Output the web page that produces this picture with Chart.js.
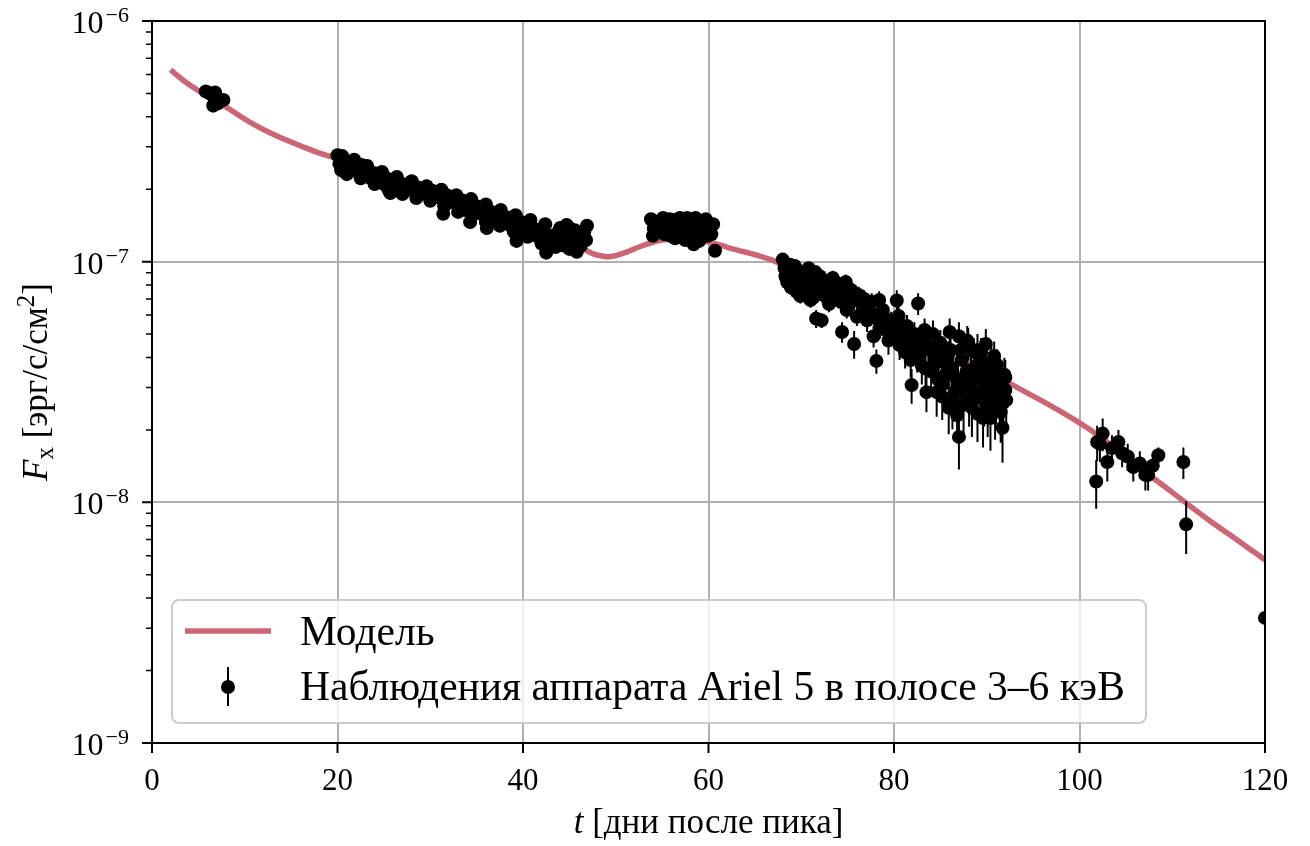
<!DOCTYPE html>
<html>
<head>
<meta charset="utf-8">
<script src="https://cdn.jsdelivr.net/npm/chart.js@4.4.1/dist/chart.umd.min.js"></script>
<style>
  body { margin: 0; background: #fff; }
</style>
</head>
<body>
<canvas id="canvas" width="1310" height="846"></canvas>
<script>
// model light curve
const modelT = [2, 3.5, 5, 6.5, 8, 10.5, 13, 16, 19, 22, 25, 28, 31, 34, 37, 40, 43, 45, 46.5, 47.5, 48.5, 49.5,
  51, 53, 55, 57, 59, 61, 63, 65, 67, 70, 74, 78, 82, 86, 90, 94, 98, 102, 106, 110, 114, 117, 120];
const modelF = [6.26e-7, 5.62e-7, 5.14e-7, 4.74e-7, 4.39e-7, 3.81e-7, 3.39e-7, 3.03e-7, 2.75e-7, 2.57e-7, 2.31e-7,
  2.10e-7, 1.91e-7, 1.74e-7, 1.58e-7, 1.44e-7, 1.30e-7, 1.21e-7, 1.13e-7, 1.08e-7, 1.055e-7, 1.05e-7,
  1.09e-7, 1.17e-7, 1.23e-7, 1.25e-7, 1.23e-7, 1.18e-7, 1.12e-7, 1.07e-7, 1.01e-7, 8.89e-8, 7.48e-8,
  6.24e-8, 5.20e-8, 4.30e-8, 3.51e-8, 2.90e-8, 2.38e-8, 1.90e-8, 1.44e-8, 1.10e-8, 8.4e-9, 6.98e-9, 5.76e-9];

// Ariel 5 points: [t, F, sigma]
const obsEarly = [
  [5.8, 5.1e-7, 1.5e-8], [6.25, 5.0e-7, 1.5e-8], [6.7, 4.8e-7, 1.5e-8], [6.6, 4.45e-7, 1.4e-8],
  [7.1, 4.55e-7, 1.4e-8], [7.7, 4.7e-7, 1.5e-8], [6.8, 5.05e-7, 1.5e-8]
];
const obsFirst = [
  [20.0, 2.77e-7, 6e-9], [20.2, 2.55e-7, 6e-9], [20.4, 2.40e-7, 6e-9], [20.5, 2.75e-7, 6e-9], [20.7, 2.65e-7, 6e-9],
  [21.0, 2.50e-7, 6e-9], [21.0, 2.31e-7, 6e-9], [21.3, 2.60e-7, 6e-9], [21.6, 2.40e-7, 6e-9], [21.8, 2.65e-7, 6e-9],
  [22.0, 2.47e-7, 6e-9], [22.3, 2.36e-7, 6e-9], [22.5, 2.22e-7, 6e-9], [22.6, 2.52e-7, 6e-9], [23.0, 2.29e-7, 5e-9],
  [23.2, 2.50e-7, 5e-9], [23.3, 2.40e-7, 5e-9], [23.6, 2.22e-7, 5e-9], [24.0, 2.33e-7, 5e-9], [24.0, 2.10e-7, 5e-9],
  [24.3, 2.18e-7, 5e-9], [24.6, 2.27e-7, 5e-9], [24.8, 2.36e-7, 5e-9], [25.0, 2.10e-7, 5e-9], [25.3, 2.22e-7, 5e-9],
  [25.5, 1.99e-7, 5e-9], [25.6, 2.14e-7, 5e-9], [25.7, 1.93e-7, 5e-9], [26.0, 2.06e-7, 5e-9], [26.3, 2.18e-7, 5e-9],
  [26.4, 2.25e-7, 5e-9], [26.7, 2.03e-7, 5e-9], [27.0, 2.10e-7, 5e-9], [27.0, 1.91e-7, 5e-9], [27.4, 1.99e-7, 5e-9],
  [27.8, 2.08e-7, 5e-9], [28.0, 2.16e-7, 5e-9], [28.2, 1.97e-7, 5e-9], [28.5, 1.84e-7, 5e-9], [28.6, 2.04e-7, 5e-9],
  [29.0, 1.93e-7, 5e-9], [29.4, 2.03e-7, 5e-9], [29.6, 2.06e-7, 5e-9], [29.8, 1.89e-7, 5e-9], [30.0, 1.79e-7, 5e-9],
  [30.2, 1.97e-7, 5e-9], [30.6, 1.86e-7, 5e-9], [31.0, 1.93e-7, 5e-9], [31.2, 1.99e-7, 5e-9], [31.4, 1.80e-7, 5e-9],
  [31.4, 1.58e-7, 5e-9], [31.5, 1.70e-7, 5e-9], [31.8, 1.89e-7, 5e-9], [32.2, 1.77e-7, 5e-9], [32.6, 1.84e-7, 5e-9],
  [32.8, 1.89e-7, 5e-9], [33.0, 1.72e-7, 5e-9], [33.0, 1.61e-7, 5e-9], [33.4, 1.80e-7, 5e-9], [33.8, 1.64e-7, 5e-9],
  [34.2, 1.73e-7, 5e-9], [34.3, 1.46e-7, 5e-9], [34.4, 1.82e-7, 5e-9], [34.5, 1.55e-7, 5e-9], [34.6, 1.62e-7, 5e-9],
  [35.0, 1.70e-7, 5e-9], [35.4, 1.59e-7, 5e-9], [35.8, 1.67e-7, 5e-9], [36.0, 1.73e-7, 5e-9], [36.0, 1.46e-7, 5e-9],
  [36.1, 1.38e-7, 5e-9], [36.2, 1.55e-7, 5e-9], [36.6, 1.61e-7, 5e-9], [37.0, 1.50e-7, 5e-9], [37.4, 1.58e-7, 5e-9],
  [37.5, 1.41e-7, 5e-9], [37.6, 1.64e-7, 5e-9], [37.8, 1.46e-7, 5e-9], [38.2, 1.53e-7, 5e-9], [38.6, 1.42e-7, 5e-9],
  [39.0, 1.49e-7, 5e-9], [39.0, 1.33e-7, 5e-9], [39.2, 1.56e-7, 5e-9], [39.3, 1.22e-7, 5e-9], [39.4, 1.38e-7, 5e-9],
  [39.8, 1.46e-7, 5e-9], [40.2, 1.34e-7, 5e-9], [40.5, 1.27e-7, 5e-9], [40.6, 1.41e-7, 5e-9], [40.8, 1.49e-7, 5e-9],
  [41.0, 1.29e-7, 5e-9], [41.4, 1.36e-7, 5e-9], [41.8, 1.25e-7, 5e-9], [42.0, 1.19e-7, 5e-9], [42.2, 1.33e-7, 5e-9],
  [42.4, 1.43e-7, 5e-9], [42.5, 1.09e-7, 5e-9], [42.6, 1.19e-7, 5e-9], [43.0, 1.28e-7, 5e-9], [43.4, 1.22e-7, 5e-9],
  [43.5, 1.15e-7, 5e-9], [43.8, 1.33e-7, 5e-9], [44.0, 1.38e-7, 5e-9], [44.2, 1.17e-7, 5e-9], [44.6, 1.25e-7, 5e-9],
  [44.7, 1.42e-7, 5e-9], [45.0, 1.38e-7, 5e-9], [45.0, 1.13e-7, 5e-9], [45.4, 1.20e-7, 5e-9], [45.6, 1.35e-7, 5e-9],
  [45.8, 1.28e-7, 5e-9], [45.8, 1.10e-7, 5e-9], [46.2, 1.16e-7, 5e-9], [46.3, 1.19e-7, 5e-9], [46.6, 1.33e-7, 5e-9],
  [46.8, 1.23e-7, 5e-9], [46.9, 1.41e-7, 5e-9]
];
const obsSecond = [
  [53.8, 1.50e-7, 5e-9], [54.0, 1.28e-7, 5e-9], [54.1, 1.38e-7, 5e-9], [54.3, 1.35e-7, 5e-9], [54.4, 1.46e-7, 5e-9],
  [54.8, 1.33e-7, 5e-9], [55.1, 1.52e-7, 5e-9], [55.3, 1.30e-7, 5e-9], [55.5, 1.41e-7, 5e-9], [55.8, 1.50e-7, 5e-9],
  [55.9, 1.28e-7, 5e-9], [56.0, 1.41e-7, 5e-9], [56.2, 1.49e-7, 5e-9], [56.4, 1.25e-7, 5e-9], [56.6, 1.36e-7, 5e-9],
  [56.9, 1.52e-7, 5e-9], [57.0, 1.43e-7, 5e-9], [57.3, 1.31e-7, 5e-9], [57.5, 1.23e-7, 5e-9], [57.7, 1.52e-7, 5e-9],
  [57.9, 1.30e-7, 5e-9], [58.0, 1.38e-7, 5e-9], [58.2, 1.46e-7, 5e-9], [58.4, 1.18e-7, 5e-9], [58.6, 1.52e-7, 5e-9],
  [58.8, 1.42e-7, 5e-9], [59.0, 1.22e-7, 5e-9], [59.2, 1.33e-7, 5e-9], [59.3, 1.38e-7, 5e-9], [59.5, 1.46e-7, 5e-9],
  [59.7, 1.50e-7, 5e-9], [59.9, 1.28e-7, 5e-9], [60.2, 1.38e-7, 5e-9], [60.3, 1.30e-7, 5e-9], [60.5, 1.43e-7, 5e-9],
  [60.7, 1.11e-7, 5e-9]
];
const obsDecline = [
  [68.0, 10.2e-8, 0.4e-8], [68.2, 9.4e-8, 0.4e-8], [68.3, 8.7e-8, 0.4e-8], [68.4, 8.56e-8, 0.4e-8], [68.5, 8.2e-8, 0.5e-8],
  [68.7, 9.1e-8, 0.4e-8], [68.8, 9.7e-8, 0.4e-8], [68.9, 7.8e-8, 0.5e-8], [69.1, 8.6e-8, 0.4e-8], [69.3, 9.6e-8, 0.5e-8],
  [69.5, 7.5e-8, 0.5e-8], [69.6, 9.23e-8, 0.5e-8], [69.8, 8.4e-8, 0.4e-8], [69.9, 7.2e-8, 0.5e-8], [70.0, 7.9e-8, 0.5e-8],
  [70.2, 8.9e-8, 0.5e-8], [70.4, 7.3e-8, 0.5e-8], [70.6, 8.2e-8, 0.5e-8], [70.8, 9.4e-8, 0.5e-8], [70.9, 7.6e-8, 0.4e-8],
  [71.0, 6.93e-8, 0.5e-8], [71.1, 8.6e-8, 0.5e-8], [71.3, 7.1e-8, 0.5e-8], [71.5, 9.06e-8, 0.5e-8], [71.6, 5.8e-8, 0.5e-8],
  [71.8, 7.9e-8, 0.5e-8], [72.0, 8.7e-8, 0.6e-8], [72.2, 5.7e-8, 0.4e-8], [72.3, 7.3e-8, 0.5e-8], [72.4, 7.78e-8, 0.5e-8],
  [72.6, 8.2e-8, 0.5e-8], [72.9, 6.9e-8, 0.5e-8], [73.0, 6.67e-8, 0.5e-8], [73.1, 7.8e-8, 0.6e-8], [73.4, 8.56e-8, 0.6e-8],
  [73.7, 7.2e-8, 0.5e-8], [73.9, 7.34e-8, 0.5e-8], [74.0, 8.1e-8, 0.6e-8], [74.3, 6.8e-8, 0.5e-8], [74.4, 5.1e-8, 0.5e-8],
  [74.6, 7.6e-8, 0.6e-8], [74.8, 8.24e-8, 0.6e-8], [74.9, 6.3e-8, 0.5e-8], [75.0, 6.55e-8, 0.6e-8], [75.1, 7.2e-8, 0.6e-8],
  [75.4, 7.62e-8, 0.6e-8], [75.7, 6.9e-8, 0.6e-8], [75.7, 4.55e-8, 0.6e-8], [76.0, 5.9e-8, 0.5e-8], [76.2, 7.27e-8, 0.6e-8],
  [76.5, 6.7e-8, 0.6e-8], [76.8, 7.0e-8, 0.6e-8], [76.9, 6.3e-8, 0.6e-8], [77.1, 5.7e-8, 0.6e-8], [77.4, 6.2e-8, 0.6e-8],
  [77.6, 6.8e-8, 0.6e-8], [77.8, 4.9e-8, 0.5e-8], [78.1, 3.87e-8, 0.45e-8], [78.2, 5.8e-8, 0.6e-8], [78.4, 6.93e-8, 0.6e-8],
  [78.5, 5.4e-8, 0.6e-8], [78.8, 6.3e-8, 0.6e-8], [79.0, 5.84e-8, 0.6e-8], [79.1, 5.2e-8, 0.6e-8], [79.4, 4.7e-8, 0.6e-8],
  [79.7, 5.6e-8, 0.6e-8], [79.8, 5.2e-8, 0.6e-8], [80.0, 5.0e-8, 0.6e-8], [80.3, 6.9e-8, 0.7e-8], [80.5, 5.95e-8, 0.6e-8],
  [80.6, 4.5e-8, 0.6e-8], [80.9, 5.3e-8, 0.6e-8], [81.0, 4.72e-8, 0.6e-8], [81.2, 4.2e-8, 0.6e-8], [81.4, 5.41e-8, 0.6e-8],
  [81.5, 4.8e-8, 0.6e-8], [81.8, 3.9e-8, 0.6e-8], [81.9, 3.07e-8, 0.5e-8], [82.0, 4.5e-8, 0.6e-8], [82.2, 5.0e-8, 0.6e-8],
  [82.5, 4.06e-8, 0.6e-8], [82.6, 6.7e-8, 0.7e-8], [82.8, 4.14e-8, 0.6e-8], [83.0, 3.69e-8, 0.6e-8], [83.1, 4.7e-8, 0.6e-8],
  [83.3, 5.2e-8, 0.6e-8], [83.4, 3.6e-8, 0.6e-8], [83.5, 2.87e-8, 0.5e-8], [83.7, 4.4e-8, 0.6e-8], [83.9, 4.3e-8, 0.6e-8],
  [84.0, 3.5e-8, 0.6e-8], [84.2, 5.0e-8, 0.7e-8], [84.4, 3.76e-8, 0.6e-8], [84.5, 4.06e-8, 0.6e-8], [84.6, 2.87e-8, 0.6e-8],
  [84.8, 3.22e-8, 0.6e-8], [84.9, 4.3e-8, 0.6e-8], [85.0, 4.6e-8, 0.6e-8], [85.2, 2.75e-8, 0.55e-8], [85.3, 3.1e-8, 0.6e-8],
  [85.5, 3.39e-8, 0.6e-8], [85.6, 3.76e-8, 0.6e-8], [85.8, 4.06e-8, 0.6e-8], [85.9, 2.47e-8, 0.55e-8], [86.0, 5.1e-8, 0.7e-8],
  [86.1, 4.3e-8, 0.6e-8], [86.2, 3.62e-8, 0.6e-8], [86.3, 2.61e-8, 0.6e-8], [86.4, 3.36e-8, 0.6e-8], [86.5, 2.79e-8, 0.6e-8],
  [86.7, 2.93e-8, 0.6e-8], [86.8, 2.30e-8, 0.5e-8], [86.9, 3.22e-8, 0.6e-8], [87.0, 1.87e-8, 0.5e-8], [87.0, 4.9e-8, 0.7e-8],
  [87.2, 4.3e-8, 0.6e-8], [87.3, 3.9e-8, 0.6e-8], [87.4, 2.87e-8, 0.6e-8], [87.5, 2.54e-8, 0.6e-8], [87.6, 3.1e-8, 0.6e-8],
  [87.8, 3.48e-8, 0.6e-8], [87.9, 4.7e-8, 0.7e-8], [88.0, 4.6e-8, 0.7e-8], [88.1, 2.66e-8, 0.6e-8], [88.2, 2.98e-8, 0.6e-8],
  [88.3, 3.55e-8, 0.6e-8], [88.4, 2.47e-8, 0.6e-8], [88.5, 3.29e-8, 0.6e-8], [88.6, 4.22e-8, 0.6e-8], [88.8, 2.87e-8, 0.6e-8],
  [88.9, 3.48e-8, 0.6e-8], [89.0, 2.33e-8, 0.55e-8], [89.0, 4.3e-8, 0.7e-8], [89.2, 3.83e-8, 0.6e-8], [89.3, 2.76e-8, 0.6e-8],
  [89.4, 4.22e-8, 0.6e-8], [89.5, 3.22e-8, 0.6e-8], [89.6, 2.24e-8, 0.55e-8], [89.7, 2.66e-8, 0.6e-8], [89.8, 3.17e-8, 0.6e-8],
  [89.9, 4.55e-8, 0.7e-8], [90.0, 2.98e-8, 0.6e-8], [90.1, 2.47e-8, 0.6e-8], [90.2, 3.48e-8, 0.6e-8], [90.4, 2.24e-8, 0.6e-8],
  [90.5, 3.83e-8, 0.6e-8], [90.6, 3.04e-8, 0.6e-8], [90.7, 2.82e-8, 0.6e-8], [90.8, 4.06e-8, 0.6e-8], [90.9, 2.42e-8, 0.6e-8],
  [91.0, 2.71e-8, 0.6e-8], [91.1, 3.73e-8, 0.6e-8], [91.2, 3.36e-8, 0.6e-8], [91.3, 2.98e-8, 0.6e-8], [91.4, 2.51e-8, 0.6e-8],
  [91.5, 2.37e-8, 0.6e-8], [91.6, 3.22e-8, 0.6e-8], [91.7, 2.04e-8, 0.58e-8], [91.8, 2.6e-8, 0.6e-8], [91.9, 3.39e-8, 0.6e-8],
  [92.0, 2.93e-8, 0.6e-8], [92.0, 3.3e-8, 0.6e-8], [92.1, 2.66e-8, 0.6e-8]
];
const obsLate = [
  [101.8, 1.22e-8, 0.28e-8], [101.9, 1.78e-8, 0.30e-8], [102.2, 1.75e-8, 0.28e-8], [102.5, 1.93e-8, 0.30e-8],
  [103.0, 1.47e-8, 0.25e-8], [103.5, 1.68e-8, 0.22e-8], [104.2, 1.78e-8, 0.22e-8], [104.6, 1.60e-8, 0.20e-8],
  [105.2, 1.55e-8, 0.20e-8], [105.8, 1.40e-8, 0.18e-8], [106.5, 1.45e-8, 0.18e-8], [107.1, 1.30e-8, 0.18e-8],
  [107.4, 1.30e-8, 0.18e-8], [107.9, 1.42e-8, 0.15e-8], [108.5, 1.57e-8, 0.12e-8], [111.2, 1.47e-8, 0.22e-8],
  [111.5, 0.81e-8, 0.20e-8], [120.0, 0.331e-8, 0.05e-8]
];
const observations = [...obsEarly, ...obsFirst, ...obsSecond, ...obsDecline, ...obsLate];

const xTicks = [0, 20, 40, 60, 80, 100, 120];
const yTicks = [1e-9, 1e-8, 1e-7, 1e-6];
const yTickExp = ['−9', '−8', '−7', '−6'];

const SERIF = '"Liberation Serif", "Times New Roman", serif';
const MODEL_COLOR = '#cc6677';
const MARKER_R = 7;

function drawRich(ctx, runs, x, y) {
  let w = 0;
  for (const r of runs) { ctx.font = r.font; w += ctx.measureText(r.text).width; }
  let cx = x - w / 2;
  ctx.textAlign = 'left';
  for (const r of runs) {
    ctx.font = r.font;
    ctx.fillText(r.text, cx, y + (r.dy || 0));
    cx += ctx.measureText(r.text).width;
  }
}

const errorBars = {
  id: 'errorBars',
  beforeDatasetDraw(chart, args) {
    if (args.index !== 0) return;
    const { ctx, chartArea: a, scales: { x, y } } = chart;
    ctx.save();
    ctx.beginPath();
    ctx.rect(a.left, a.top, a.right - a.left, a.bottom - a.top);
    ctx.clip();
    ctx.strokeStyle = '#000';
    ctx.lineWidth = 2;
    ctx.beginPath();
    for (const [t, f, s] of observations) {
      const px = x.getPixelForValue(t);
      ctx.moveTo(px, y.getPixelForValue(f + s));
      ctx.lineTo(px, f - s > 0 ? y.getPixelForValue(f - s) : a.bottom);
    }
    ctx.stroke();
    ctx.restore();
  }
};

const decorations = {
  id: 'decorations',
  afterDraw(chart) {
    const { ctx, chartArea: a, scales: { x, y } } = chart;
    ctx.save();
    ctx.fillStyle = '#000';
    ctx.strokeStyle = '#000';

    // frame
    ctx.lineWidth = 2;
    ctx.strokeRect(a.left, a.top, a.right - a.left, a.bottom - a.top);

    // tick marks
    ctx.beginPath();
    for (const v of xTicks) {
      const px = x.getPixelForValue(v);
      ctx.moveTo(px, a.bottom); ctx.lineTo(px, a.bottom + 10);
    }
    for (const v of yTicks) {
      const py = y.getPixelForValue(v);
      ctx.moveTo(a.left - 10, py); ctx.lineTo(a.left, py);
    }
    ctx.stroke();
    ctx.lineWidth = 1.5;
    ctx.beginPath();
    for (const dec of yTicks.slice(0, -1)) {
      for (let m = 2; m <= 9; m++) {
        const py = y.getPixelForValue(m * dec);
        ctx.moveTo(a.left - 6, py); ctx.lineTo(a.left, py);
      }
    }
    ctx.stroke();

    // tick labels
    ctx.textBaseline = 'alphabetic';
    ctx.font = '31px ' + SERIF;
    ctx.textAlign = 'center';
    for (const v of xTicks) ctx.fillText(String(v), x.getPixelForValue(v), 790);
    ctx.textAlign = 'right';
    yTicks.forEach((v, i) => {
      const py = y.getPixelForValue(v);
      ctx.font = '22px ' + SERIF;
      ctx.fillText(yTickExp[i], 129, py + 1);
      const w = ctx.measureText(yTickExp[i]).width;
      ctx.font = '32px ' + SERIF;
      ctx.fillText('10', 129 - w - 2, py + 12);
    });

    // axis titles
    const f = '35px ' + SERIF, fi = 'italic 35px ' + SERIF, fs = '25px ' + SERIF;
    drawRich(ctx, [{ text: 't', font: fi }, { text: ' [дни после пика]', font: f }], (a.left + a.right) / 2, 833);
    ctx.save();
    ctx.translate(47, (a.top + a.bottom) / 2);
    ctx.rotate(-Math.PI / 2);
    drawRich(ctx, [
      { text: 'F', font: fi }, { text: 'x', font: fs, dy: 6 },
      { text: ' [эрг/с/см', font: f }, { text: '2', font: fs, dy: -13 }, { text: ']', font: f }
    ], 0, 0);
    ctx.restore();

    // legend
    ctx.beginPath();
    ctx.roundRect(172, 600, 974, 123, 7);
    ctx.fillStyle = 'rgba(255,255,255,0.8)';
    ctx.fill();
    ctx.strokeStyle = '#cccccc';
    ctx.lineWidth = 2;
    ctx.stroke();
    const dsObs = chart.data.datasets[0], dsModel = chart.data.datasets[1];
    ctx.strokeStyle = MODEL_COLOR;
    ctx.lineWidth = 5.5;
    ctx.beginPath(); ctx.moveTo(185, 631); ctx.lineTo(271, 631); ctx.stroke();
    ctx.strokeStyle = '#000';
    ctx.lineWidth = 2;
    ctx.beginPath(); ctx.moveTo(228, 667); ctx.lineTo(228, 706); ctx.stroke();
    ctx.fillStyle = '#000';
    ctx.beginPath(); ctx.arc(228, 687, MARKER_R, 0, Math.PI * 2); ctx.fill();
    ctx.font = '41.5px ' + SERIF;
    ctx.textAlign = 'left';
    ctx.fillText(dsModel.label, 300, 645);
    ctx.fillText(dsObs.label, 300, 700);
    ctx.restore();
  }
};

const canvas = document.getElementById('canvas');
const chart = new Chart(canvas, {
  type: 'scatter',
  data: {
    datasets: [
      {
        label: 'Наблюдения аппарата Ariel 5 в полосе 3–6 кэВ',
        data: observations.map(([t, f]) => ({ x: t, y: f })),
        pointRadius: MARKER_R,
        pointBackgroundColor: '#000',
        pointBorderColor: '#000',
        pointBorderWidth: 0,
        order: 1,
        clip: 0
      },
      {
        type: 'line',
        label: 'Модель',
        data: modelT.map((t, i) => ({ x: t, y: modelF[i] })),
        borderColor: MODEL_COLOR,
        borderWidth: 5.5,
        pointRadius: 0,
        fill: false,
        tension: 0.4,
        order: 2,
        clip: 0
      }
    ]
  },
  options: {
    responsive: false,
    animation: false,
    events: [],
    layout: { padding: { top: 21, right: 45, left: 0, bottom: 0 } },
    plugins: { legend: { display: false }, tooltip: { enabled: false } },
    scales: {
      x: {
        type: 'linear', min: 0, max: 120,
        afterBuildTicks: s => { s.ticks = xTicks.map(v => ({ value: v })); },
        afterFit: s => { s.height = 103; },
        ticks: { display: false },
        grid: { color: '#b0b0b0', lineWidth: 2, drawTicks: false },
        border: { display: false }
      },
      y: {
        type: 'logarithmic', min: 1e-9, max: 1e-6,
        afterBuildTicks: s => { s.ticks = yTicks.map(v => ({ value: v })); },
        afterFit: s => { s.width = 152; },
        ticks: { display: false },
        grid: { color: '#b0b0b0', lineWidth: 2, drawTicks: false },
        border: { display: false }
      }
    }
  },
  plugins: [errorBars, decorations]
});
</script>
</body>
</html>
